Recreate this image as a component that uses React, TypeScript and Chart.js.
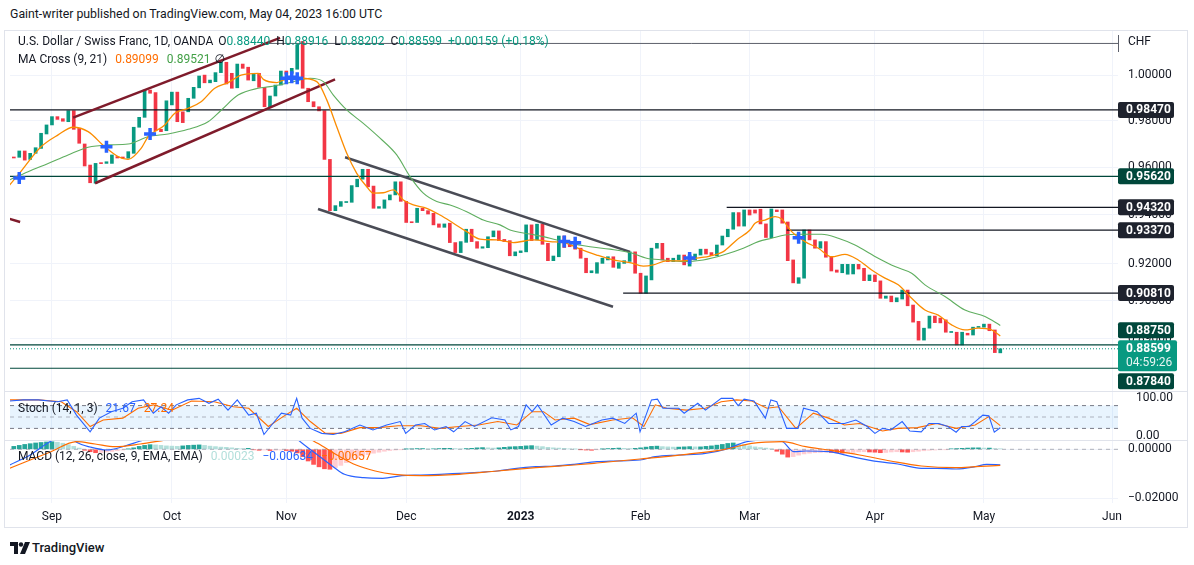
import { useEffect, useRef } from 'react';
import { Chart, registerables } from 'chart.js';

Chart.register(...registerables);

// ---- time axis (candle index 0 = 23 Aug 2022) ----
const X_MIN = -0.7;
const X_MAX = 202.6;
const monthTicks = [7, 29, 50, 72, 93, 115, 135, 158, 178, 201.5];
const monthLabels = ['Sep', 'Oct', 'Nov', 'Dec', '2023', 'Feb', 'Mar', 'Apr', 'May', 'Jun'];

// ---- daily candles, USD/CHF ----
const opens = [
  0.9644, 0.9643, 0.967, 0.9634, 0.966, 0.9681, 0.9743, 0.9782, 0.9818, 0.9809,
  0.9796, 0.9844, 0.9767, 0.97, 0.961, 0.9533, 0.962, 0.9617, 0.9617, 0.9646,
  0.9644, 0.9639, 0.966, 0.9772, 0.9815, 0.9934, 0.9923, 0.9763, 0.9757, 0.9869,
  0.9925, 0.9839, 0.9839, 0.9898, 0.9944, 1.0, 0.9966, 0.9971, 1.0011, 1.0057,
  1.0008, 0.9944, 1.0049, 1.0035, 0.9975, 1.0008, 0.9946, 0.9861, 0.9908, 0.9956,
  1.0018, 1.0008, 1.0026, 1.015, 0.9942, 0.9883, 0.9861, 0.9844, 0.9634, 0.9418,
  0.9436, 0.9452, 0.9453, 0.9518, 0.955, 0.9592, 0.9521, 0.9428, 0.9428, 0.9463,
  0.9484, 0.9539, 0.9457, 0.9371, 0.9369, 0.9428, 0.9418, 0.9407, 0.9363, 0.9349,
  0.9366, 0.9286, 0.9245, 0.9287, 0.9341, 0.929, 0.9263, 0.9265, 0.931, 0.9334,
  0.9299, 0.9294, 0.9232, 0.9245, 0.9248, 0.9359, 0.9297, 0.9362, 0.9283, 0.9212,
  0.9228, 0.9313, 0.9279, 0.929, 0.9263, 0.9222, 0.9163, 0.9161, 0.9201, 0.9215,
  0.9228, 0.9181, 0.9201, 0.9209, 0.9248, 0.9161, 0.908, 0.9134, 0.9263, 0.9283,
  0.9222, 0.9208, 0.9215, 0.9235, 0.919, 0.9215, 0.9235, 0.9259, 0.9245, 0.9232,
  0.9276, 0.931, 0.9341, 0.941, 0.9354, 0.9421, 0.9421, 0.9424, 0.9363, 0.9306,
  0.9421, 0.9421, 0.9371, 0.9215, 0.912, 0.9141, 0.9338, 0.9297, 0.9263, 0.929,
  0.9228, 0.9174, 0.9163, 0.9157, 0.9158, 0.9197, 0.9181, 0.9131, 0.9154, 0.913,
  0.906, 0.9069, 0.9046, 0.9057, 0.9093, 0.9033, 0.8968, 0.8894, 0.8941, 0.8989,
  0.8981, 0.8974, 0.8924, 0.8925, 0.8875, 0.8921, 0.8914, 0.8944, 0.8945, 0.8957,
  0.8934, 0.8844,
];
const closes = [
  0.964, 0.967, 0.9631, 0.966, 0.9684, 0.9746, 0.9782, 0.9818, 0.9806, 0.9798,
  0.9844, 0.9763, 0.9703, 0.9606, 0.9535, 0.9617, 0.9616, 0.9624, 0.9653, 0.964,
  0.964, 0.9667, 0.9772, 0.9815, 0.9934, 0.992, 0.9757, 0.9753, 0.9887, 0.9925,
  0.9796, 0.9792, 0.9898, 0.9946, 0.9996, 0.9966, 0.9978, 1.0011, 1.0057, 0.9961,
  0.9942, 1.0049, 1.003, 0.9978, 1.0008, 0.9946, 0.9861, 0.9908, 0.9956, 1.0018,
  1.0004, 1.003, 1.0134, 0.9942, 0.9883, 0.9861, 0.9843, 0.9634, 0.9418, 0.9439,
  0.9456, 0.9455, 0.9523, 0.955, 0.9592, 0.9518, 0.9428, 0.9435, 0.9463, 0.9484,
  0.9539, 0.9457, 0.9369, 0.9368, 0.9428, 0.9418, 0.9404, 0.9359, 0.9349, 0.9363,
  0.9286, 0.9245, 0.929, 0.9341, 0.929, 0.9263, 0.9269, 0.931, 0.9334, 0.9294,
  0.929, 0.9232, 0.9248, 0.9252, 0.9359, 0.9294, 0.9362, 0.9279, 0.9212, 0.9231,
  0.9313, 0.9266, 0.9269, 0.9259, 0.9222, 0.9163, 0.9171, 0.9204, 0.9222, 0.9228,
  0.9185, 0.9204, 0.9212, 0.9248, 0.9161, 0.908, 0.915, 0.9263, 0.9283, 0.9215,
  0.9208, 0.9222, 0.9235, 0.9195, 0.9235, 0.9239, 0.9259, 0.9239, 0.9232, 0.9276,
  0.9313, 0.9341, 0.941, 0.9354, 0.9421, 0.94, 0.9408, 0.9363, 0.9307, 0.9425,
  0.9414, 0.9366, 0.9212, 0.9122, 0.9143, 0.9338, 0.9297, 0.9263, 0.929, 0.9226,
  0.917, 0.9165, 0.9197, 0.9197, 0.9197, 0.9178, 0.9131, 0.9154, 0.9127, 0.906,
  0.9069, 0.9046, 0.9062, 0.9093, 0.903, 0.8965, 0.8894, 0.8941, 0.8989, 0.8963,
  0.8962, 0.8925, 0.8926, 0.8875, 0.8925, 0.8914, 0.8945, 0.8946, 0.8957, 0.8931,
  0.8845, 0.88599,
];

// ---- MA Cross (9, 21) as [index, price] ----
const maFast = [
  [-1.05, 0.9518], [0.79, 0.9568], [5, 0.9688], [8.13, 0.9739], [10.88, 0.9772], [13.63, 0.9753],
  [16.69, 0.9688], [19.13, 0.9646], [20.97, 0.9634], [23.35, 0.9681], [24.64, 0.9731], [27.7, 0.9782],
  [29.54, 0.9833], [31.98, 0.9854], [34.36, 0.9883], [36.87, 0.9942], [39.31, 0.9967], [41.7, 1.0],
  [44.82, 1.0008], [45.79, 0.9981], [48.25, 0.9967], [49.4, 0.9978], [52.52, 0.9986], [55.59, 0.9971],
  [57.42, 0.9891], [59.25, 0.9774], [61.09, 0.966], [62.92, 0.9575], [64.76, 0.9518], [65.97, 0.9491],
  [67.8, 0.9493], [69.64, 0.9505], [71.47, 0.9463], [73.31, 0.9442], [75.77, 0.9428], [78.2, 0.94],
  [80.65, 0.9366], [83.1, 0.9331], [85.55, 0.93], [88.6, 0.9297], [91.65, 0.9286], [95.32, 0.9297],
  [98.38, 0.929], [101.45, 0.9283], [103.89, 0.9259], [106.95, 0.9235], [110, 0.9215], [113.06, 0.9204],
  [115.5, 0.919], [117.34, 0.9195], [119.8, 0.9211], [122.84, 0.9211], [125.3, 0.9222], [127.74, 0.9231],
  [130.18, 0.9249], [132.64, 0.9297], [135.08, 0.9338], [136, 0.9366], [137.83, 0.9379], [139.67, 0.9393],
  [140.89, 0.9383], [142.73, 0.9331], [145.17, 0.929], [147.61, 0.9263], [150.06, 0.9228], [152.5, 0.9238],
  [154.94, 0.9215], [157.4, 0.9174], [159.84, 0.9141], [162.28, 0.9114], [164.74, 0.906], [167.18, 0.9013],
  [169.62, 0.8993], [172.08, 0.8954], [174.52, 0.8934], [176.96, 0.8941], [179.41, 0.8934], [181, 0.891],
];
const maSlow = [
  [-1.05, 0.9544], [2.62, 0.9582], [6.29, 0.9617], [9.96, 0.9653], [13.63, 0.9686], [17.3, 0.9696],
  [20.97, 0.97], [24.64, 0.9731], [28.31, 0.9743], [31.98, 0.9763], [35.64, 0.9796], [38.09, 0.9847],
  [41.15, 0.9912], [44.82, 0.9942], [47.02, 0.9949], [50.69, 0.9967], [54.36, 0.9986], [56.8, 0.9971],
  [58.63, 0.9912], [61.09, 0.9847], [64.13, 0.9789], [67.2, 0.9725], [70.26, 0.9653], [72.7, 0.9561],
  [75.14, 0.9491], [77.6, 0.9456], [80.04, 0.9442], [83.1, 0.9414], [86.15, 0.9379], [89.2, 0.9359],
  [91.05, 0.9338], [94.72, 0.9321], [98.38, 0.9304], [102.05, 0.9283], [105.73, 0.9269], [109.4, 0.9259],
  [113.06, 0.9245], [116.12, 0.9222], [119.17, 0.9215], [122.84, 0.9208], [126.5, 0.9215], [130.18, 0.9235],
  [133.85, 0.9263], [136.6, 0.929], [139.05, 0.9304], [141.5, 0.9317], [143.94, 0.932], [148.23, 0.932],
  [151.28, 0.9304], [154.34, 0.9276], [158.61, 0.9222], [161.68, 0.9188], [164.74, 0.9161], [167.18, 0.9114],
  [170.85, 0.9067], [174.52, 0.9013], [178.19, 0.8987], [181, 0.8952],
];
const maCrosses = [
  [1, 0.9555], [17, 0.9688], [25, 0.9743], [50, 0.9986], [51, 0.999], [52, 0.9986],
  [101, 0.929], [103, 0.9285], [124, 0.9223], [144, 0.9306],
];

// ---- drawings ----
const darkLevels = [[0.9847, X_MIN], [0.9432, 130.8], [0.9337, 141.8], [0.9081, 111.8]];
const greenLevels = [[0.9562, X_MIN], [0.8875, X_MIN], [0.8784, X_MIN]];
const highLevel = [1.0141, 46];
const lastPrice = 0.88599;
const countdown = '04:59:26';
const risingChannel = [
  [[10.88, 0.9814], [48.85, 1.0166]],
  [[14.91, 0.9533], [58.94, 0.9981]],
  [[-1.05, 0.9386], [1.16, 0.9371]],
];
const fallingChannel = [
  [[60.78, 0.9643], [113.07, 0.9248]],
  [[55.82, 0.9425], [109.94, 0.9026]],
];
const priceTicks = [1.0, 0.98, 0.96, 0.94, 0.92, 0.905, 0.89];

// ---- Stoch (14, 1, 3) ----
const stochK = [
  [-0.75, 92], [1.7, 95], [4.5, 95], [8, 90], [9.8, 95], [11.5, 55], [14, 11], [15.7, 47], [17.9, 64],
  [20, 73], [21.7, 90], [23.8, 95], [25.6, 60], [27, 77], [28.4, 60], [29.8, 82], [31.9, 95], [34, 99],
  [35.8, 86], [37.5, 97], [39.3, 68], [41, 95], [43.1, 55], [44.5, 60], [45.9, 4], [47.3, 29], [49.1, 60],
  [50.8, 55], [51.9, 99], [52.9, 47], [54.4, 20], [56.5, 7], [58.6, 4], [60.7, 11], [63.5, 29], [65.9, 16],
  [68.4, 29], [70.9, 38], [71.9, 7], [73.7, 29], [75.4, 33], [77.2, 16], [79.3, 25], [80.7, 11], [82.8, 38],
  [84.5, 25], [87.7, 48], [90.1, 42], [91.2, 16], [92.6, 25], [94, 82], [95.1, 64], [96.1, 82], [98.6, 29],
  [100.7, 47], [102.8, 38], [104.9, 25], [107.9, 42], [109.9, 47], [112.1, 33], [114.2, 60], [114.9, 11],
  [117, 95], [118.1, 97], [119.1, 73], [122, 73], [123, 60], [125.5, 86], [126.9, 68], [129.8, 99],
  [131.9, 99], [132.9, 80], [134, 97], [135.8, 92], [137.9, 47], [138.9, 95], [140, 90], [141.8, 20],
  [143.9, 20], [144.9, 73], [147.4, 64], [149.5, 33], [152.4, 33], [154.5, 42], [156.6, 25], [158, 7],
  [159.4, 20], [160.9, 16], [163, 38], [164.4, 13], [166.5, 11], [167.9, 33], [169.7, 33], [171.4, 25],
  [172.9, 10], [173.9, 25], [175.3, 25], [176.4, 38], [177.8, 55], [178.9, 53], [179.9, 10], [181, 21.67],
];
const stochD = [
  [-0.75, 95], [4.5, 95], [8.7, 90], [11.5, 64], [14, 25], [16.4, 42], [20, 47], [22.8, 73], [25.6, 82],
  [29, 68], [32.6, 92], [36.8, 90], [40.3, 77], [43.1, 73], [46.7, 25], [49.4, 51], [51.9, 73], [54.4, 38],
  [57.2, 7], [60, 7], [63.5, 22], [67, 22], [70.5, 27], [74.7, 27], [78.2, 20], [81.7, 25], [85.3, 29],
  [88.8, 38], [92.3, 29], [95.1, 64], [97.2, 64], [99.3, 42], [102.8, 47], [105.7, 30], [109.9, 42],
  [113.5, 48], [115.6, 25], [117.7, 82], [119.8, 73], [123.4, 68], [126.9, 73], [129.8, 90], [132.6, 95],
  [135.4, 92], [138.2, 73], [140.3, 77], [143.5, 20], [146.7, 60], [149.5, 47], [152.4, 29], [155.2, 33],
  [159.4, 13], [162.2, 20], [165.8, 22], [169.3, 33], [172.9, 20], [176.4, 29], [178.9, 51], [181, 27.24],
];
const stochBands = [80, 50, 20];
const stochTicks = [100, 0];

// ---- MACD (12, 26, close, 9) ----
const macdLine = [
  [-0.75, -0.00645], [3, -0.00234], [6.6, 0.00312], [8.5, 0.0048], [10.3, 0.005], [11.5, 0.00287],
  [14, 0.00094], [17.1, -0.00029], [20.4, 0.00136], [23.2, 0.00341], [26.8, 0.0055], [34.2, 0.0075],
  [41.5, 0.008], [47, 0.0085], [50.7, 0.007], [52.2, 0.0038], [55.75, -0.00234], [58.6, -0.00715],
  [60.67, -0.01027], [64.2, -0.01166], [67.7, -0.01191], [71.2, -0.01084], [74.7, -0.01055],
  [78.2, -0.01027], [81.7, -0.00986], [85.25, -0.00945], [88.75, -0.00891], [92.26, -0.0078],
  [95.78, -0.00715], [99.3, -0.00686], [102.8, -0.00616], [107, -0.00509], [109.95, -0.0048],
  [114.9, -0.0044], [117.7, -0.00304], [122, -0.00234], [126.9, -0.00164], [131.2, 0.00041],
  [134, 0.00287], [136.8, 0.0038], [138.7, 0.004], [141.1, 0.00312], [143.15, -0.00099], [145.3, -0.0007],
  [149.5, -0.00099], [153.8, -0.00304], [158.7, -0.00509], [162.2, -0.00604], [166.5, -0.0078],
  [169.3, -0.0078], [172.9, -0.00809], [176.4, -0.00715], [178.5, -0.00616], [181, -0.00634],
];
const macdSignal = [
  [-0.75, -0.0078], [3, -0.0044], [6.7, -0.0011], [11.5, 0.00312], [14.9, 0.00218], [18.6, 0.00107],
  [23.2, 0.00218], [27.7, 0.0038], [34.2, 0.006], [41.5, 0.0072], [48.9, 0.0072], [52.5, 0.0062],
  [55.75, 0.00246], [59.3, -0.00234], [62.8, -0.00645], [66.3, -0.00891], [69.8, -0.01027],
  [74.7, -0.01084], [81.7, -0.01027], [88.75, -0.00891], [95.8, -0.00756], [102.8, -0.00645],
  [107, -0.00563], [114.9, -0.00398], [123.4, -0.00205], [130.5, 0], [135.4, 0.00246], [141.1, 0.00312],
  [145.3, 0.00107], [149.5, -0.00029], [155.2, -0.00234], [160.85, -0.0048], [166.5, -0.00686],
  [172.9, -0.00756], [176.4, -0.00715], [181, -0.00657],
];
const macdHist = [
  0.0012, 0.0016, 0.002, 0.0023, 0.0026, 0.0028, 0.003, 0.0031, 0.0029, 0.0025,
  0.0019, 0.0012, 0.0005, -0.0004, -0.001, -0.0014, -0.0013, -0.0011, -0.0009, -0.0006,
  -0.0003, 0.0001, 0.0006, 0.0012, 0.0016, 0.0019, 0.0018, 0.0016, 0.0014, 0.0013,
  0.0012, 0.0014, 0.0016, 0.0017, 0.0018, 0.0016, 0.0013, 0.0011, 0.0009, 0.0008,
  0.0006, 0.0004, 0.0003, 0.0004, -0.0002, -0.0004, -0.0003, -0.0005, -0.0004, -0.0003,
  -0.0005, -0.0008, -0.0015, -0.003, -0.0048, -0.0062, -0.0072, -0.008, -0.0082, -0.0075,
  -0.0066, -0.0055, -0.0045, -0.0036, -0.0028, -0.0022, -0.0016, -0.0012, -0.0008, -0.0005,
  -0.0003, -0.0001, 0.0001, 0.0002, 0.0003, 0.0003, 0.0002, 0.0002, 0.0003, 0.0004,
  0.0004, 0.0003, 0.0002, 0.0003, 0.0004, 0.0006, 0.0007, 0.0006, 0.0005, 0.0006,
  0.0008, 0.001, 0.0011, 0.0012, 0.0014, 0.0015, 0.0013, 0.0011, 0.0008, 0.0006,
  0.0005, 0.0004, 0.0002, 0.0001, -0.0001, -0.0003, -0.0004, -0.0002, 0.0001, 0.0003,
  0.0004, 0.0005, 0.0004, 0.0003, 0.0004, 0.0006, 0.0009, 0.0012, 0.0013, 0.0011,
  0.001, 0.0009, 0.0009, 0.001, 0.0011, 0.001, 0.001, 0.0012, 0.0014, 0.0017,
  0.002, 0.0024, 0.0026, 0.0022, 0.0018, 0.0014, 0.001, 0.0007, 0.0005, 0.0002,
  -0.0008, -0.002, -0.0032, -0.003, -0.0024, -0.0019, -0.0016, -0.0014, -0.0013, -0.0012,
  -0.0013, -0.0014, -0.0016, -0.0015, -0.0013, -0.0011, -0.001, -0.0011, -0.0012, -0.0014,
  -0.0013, -0.0011, -0.001, -0.0011, -0.0012, -0.001, -0.0008, -0.0006, -0.0004, -0.0003,
  -0.0002, -0.0001, 0.0002, 0.0003, 0.0004, 0.0005, 0.0006, 0.0006, 0.0005, 0.0005,
  0.0003, 0.00023,
];
const macdTicks = [0, -0.02];

// ---- look ----
const FONT = "Roboto, 'Noto Sans', 'DejaVu Sans', sans-serif";
const TEXT = '#131722';
const GRID = '#f0f3fa';
const FRAME = '#e0e3eb';
const UP = '#089981';
const DOWN = '#F23645';
const DARK_LINE = '#131722';
const DARK_BADGE = '#1e222d';
const GREEN_LINE = '#00473b';
const MAROON = '#7f1b2b';
const SLATE = '#4a4c56';
const BLUE = '#2962FF';
const ORANGE = '#FF6D00';
const MA_FAST = '#FB8C00';
const MA_SLOW = '#5FAE5F';
const AXIS_W = 76;

Chart.defaults.font.family = FONT;

const pts = (list: number[][]) => list.map(([x, y]) => ({ x, y }));
const ray = (from: number, value: number) => [{ x: from, y: value }, { x: X_MAX, y: value }];

function xAxis(withLabels: boolean): any {
  return {
    type: 'linear',
    min: X_MIN,
    max: X_MAX,
    bounds: 'data',
    offset: false,
    afterBuildTicks: (s: any) => {
      s.ticks = monthTicks.map((value) => ({ value }));
    },
    afterFit: (s: any) => {
      s.height = withLabels ? 26 : 0;
      s.paddingLeft = 0;
      s.paddingRight = 0;
    },
    grid: { color: GRID, drawTicks: false, offset: false },
    border: { display: false },
    ticks: {
      display: withLabels,
      autoSkip: false,
      maxRotation: 0,
      padding: 7,
      color: TEXT,
      font: (c: any) => ({ family: FONT, size: 12, weight: monthLabels[c.index] === '2023' ? 'bold' : 'normal' }),
      callback: (_v: any, i: number) => monthLabels[i],
    },
  };
}

function yAxis(ticks: number[], format: (v: number) => string, extra: any): any {
  return {
    position: 'right',
    bounds: 'data',
    beginAtZero: false,
    afterBuildTicks: (s: any) => {
      s.ticks = ticks.map((value) => ({ value }));
    },
    afterFit: (s: any) => {
      s.width = AXIS_W;
      s.paddingTop = 0;
      s.paddingBottom = 0;
    },
    border: { display: false },
    ticks: { padding: 10, color: TEXT, font: { family: FONT, size: 12 }, callback: (v: any) => format(Number(v)) },
    ...extra,
  };
}

const baseOptions = {
  responsive: false,
  animation: false,
  events: [],
  layout: { autoPadding: false, padding: { left: 10, right: 0, top: 0, bottom: 0 } },
  plugins: { legend: { display: false }, tooltip: { enabled: false } },
};

const line = { type: 'line', pointRadius: 0, fill: false, tension: 0 };

const badgePlugin = {
  id: 'priceBadges',
  afterDraw(chart: any) {
    const { ctx, chartArea } = chart;
    const y = chart.scales.y;
    const left = chartArea.right;
    const h = 16;
    const curY = y.getPixelForValue(lastPrice);
    const curTop = curY - 8.5;
    const curBottom = curTop + 31;
    const items = [
      ...darkLevels.map(([v]) => ({ v, bg: DARK_BADGE })),
      ...greenLevels.map(([v]) => ({ v, bg: GREEN_LINE })),
    ];
    ctx.save();
    ctx.textBaseline = 'middle';
    ctx.textAlign = 'left';
    ctx.font = `bold 12px ${FONT}`;
    items.forEach(({ v, bg }) => {
      let cy = y.getPixelForValue(v);
      if (cy + h / 2 > curTop - 2 && cy - h / 2 < curBottom + 2) {
        cy = cy < curY ? curTop - 2 - h / 2 : curBottom + 2 + h / 2;
      }
      ctx.fillStyle = bg;
      ctx.beginPath();
      ctx.roundRect(left, cy - h / 2, 56, h, 2);
      ctx.fill();
      ctx.fillStyle = '#ffffff';
      ctx.fillText(v.toFixed(5), left + 8, cy + 0.5);
    });
    ctx.fillStyle = UP;
    ctx.beginPath();
    ctx.roundRect(left, curTop, 59, 31, 2);
    ctx.fill();
    ctx.fillStyle = '#ffffff';
    ctx.fillText(lastPrice.toFixed(5), left + 8, curY + 0.5);
    ctx.font = `12px ${FONT}`;
    ctx.fillStyle = '#e6f4f1';
    ctx.fillText(countdown, left + 8, curY + 14);
    ctx.restore();
  },
};

function mainConfig(): any {
  const candleColors = opens.map((o, i) => (closes[i] >= o ? UP : DOWN));
  return {
    type: 'bar',
    data: {
      datasets: [
        {
          ...line,
          data: pts(maCrosses),
          showLine: false,
          pointStyle: 'cross',
          pointRadius: 6,
          pointBorderWidth: 3.5,
          pointBorderColor: BLUE,
          borderColor: BLUE,
        },
        { ...line, data: pts(maFast), borderColor: MA_FAST, borderWidth: 1.3, cubicInterpolationMode: 'monotone' },
        { ...line, data: pts(maSlow), borderColor: MA_SLOW, borderWidth: 1.1, cubicInterpolationMode: 'monotone' },
        ...risingChannel.map((seg) => ({ ...line, data: pts(seg), borderColor: MAROON, borderWidth: 2.5 })),
        ...fallingChannel.map((seg) => ({ ...line, data: pts(seg), borderColor: SLATE, borderWidth: 2.5 })),
        ...darkLevels.map(([v, from]) => ({ ...line, data: ray(from, v), borderColor: DARK_LINE, borderWidth: 1.2 })),
        ...greenLevels.map(([v, from]) => ({ ...line, data: ray(from, v), borderColor: GREEN_LINE, borderWidth: 1.2 })),
        { ...line, data: ray(highLevel[1], highLevel[0]), borderColor: '#5d606b', borderWidth: 1 },
        { ...line, data: ray(X_MIN, lastPrice), borderColor: UP, borderWidth: 1, borderDash: [1, 2] },
        {
          type: 'bar',
          data: opens.map((o, i) => ({ x: i, y: [o, closes[i]] })),
          backgroundColor: candleColors,
          barThickness: 3,
          minBarLength: 1,
          grouped: false,
        },
      ],
    },
    options: {
      ...baseOptions,
      scales: {
        x: xAxis(false),
        y: yAxis(priceTicks, (v) => v.toFixed(5), {
          type: 'logarithmic',
          min: 0.8696,
          max: 1.0197,
          grid: { color: GRID, drawTicks: false },
        }),
      },
    },
    plugins: [badgePlugin],
  };
}

function stochConfig(): any {
  const bandDash = [4, 4];
  return {
    type: 'line',
    data: {
      datasets: [
        { ...line, data: pts(stochK), borderColor: BLUE, borderWidth: 1.1 },
        { ...line, data: pts(stochD), borderColor: ORANGE, borderWidth: 1.1 },
        { ...line, data: ray(X_MIN, stochBands[0]), borderColor: '#787B86', borderWidth: 1, borderDash: bandDash },
        { ...line, data: ray(X_MIN, stochBands[1]), borderColor: 'rgba(120,123,134,0.55)', borderWidth: 1, borderDash: bandDash },
        {
          ...line,
          data: ray(X_MIN, stochBands[2]),
          borderColor: '#787B86',
          borderWidth: 1,
          borderDash: bandDash,
          fill: 2,
          backgroundColor: 'rgba(33,150,243,0.1)',
        },
      ],
    },
    options: {
      ...baseOptions,
      scales: {
        x: xAxis(false),
        y: yAxis(stochTicks, (v) => v.toFixed(2), {
          type: 'linear',
          min: -10.53,
          max: 118.42,
          grid: { display: false },
        }),
      },
    },
  };
}

function macdConfig(): any {
  const histColors = macdHist.map((v, i) => {
    const prev = i > 0 ? macdHist[i - 1] : v;
    if (v >= 0) return v >= prev ? '#26A69A' : '#B2DFDB';
    return v >= prev ? '#FFCDD2' : '#FF5252';
  });
  return {
    type: 'bar',
    data: {
      datasets: [
        { ...line, data: pts(macdSignal), borderColor: ORANGE, borderWidth: 1.2, cubicInterpolationMode: 'monotone' },
        { ...line, data: pts(macdLine), borderColor: BLUE, borderWidth: 1.2, cubicInterpolationMode: 'monotone' },
        { ...line, data: ray(X_MIN, 0), borderColor: 'rgba(120,123,134,0.55)', borderWidth: 1, borderDash: [4, 4] },
        {
          type: 'bar',
          data: macdHist.map((v, i) => ({ x: i, y: v })),
          backgroundColor: histColors,
          barThickness: 4,
          grouped: false,
        },
      ],
    },
    options: {
      ...baseOptions,
      scales: {
        x: xAxis(true),
        y: yAxis(macdTicks, (v) => (v === 0 ? '0.00000' : '\u2212' + Math.abs(v).toFixed(5)), {
          type: 'linear',
          min: -0.02205,
          max: 0.00382,
          grid: { color: GRID, drawTicks: false },
        }),
      },
    },
  };
}

const abs = (left: number, top: number, extra: any = {}): any => ({ position: 'absolute', left, top, ...extra });
const legendRow = { fontSize: 12, lineHeight: '16px', whiteSpace: 'nowrap', color: TEXT };

export default function App(): JSX.Element {
  const mainRef = useRef<HTMLCanvasElement | null>(null);
  const stochRef = useRef<HTMLCanvasElement | null>(null);
  const macdRef = useRef<HTMLCanvasElement | null>(null);

  useEffect(() => {
    const charts: Chart[] = [];
    if (mainRef.current) charts.push(new Chart(mainRef.current, mainConfig()));
    if (stochRef.current) charts.push(new Chart(stochRef.current, stochConfig()));
    if (macdRef.current) charts.push(new Chart(macdRef.current, macdConfig()));
    return () => {
      charts.forEach((c) => c.destroy());
    };
  }, []);

  return (
    <div style={{ position: 'fixed', left: 0, top: 0, width: 1194, height: 565, background: '#fff', fontFamily: FONT, overflow: 'hidden' }}>
      <div style={abs(10, 6, { fontSize: 12.3, lineHeight: '16px', color: TEXT, whiteSpace: 'nowrap' })}>
        Gaint-writer published on TradingView.com, May 04, 2023 16:00 UTC
      </div>

      <canvas ref={mainRef} width={1194} height={360} style={abs(0, 31)} />
      <canvas ref={stochRef} width={1194} height={49} style={abs(0, 391)} />
      <canvas ref={macdRef} width={1194} height={89} style={abs(0, 440)} />

      <div style={abs(4, 30, { width: 1184, height: 498, border: `1px solid ${FRAME}`, boxSizing: 'border-box' })} />
      <div style={abs(4, 391, { width: 1184, height: 1, background: FRAME })} />
      <div style={abs(4, 440, { width: 1184, height: 1, background: FRAME })} />
      <div style={abs(1118, 35, { width: 1, height: 17, background: '#5d606b' })} />
      <div style={abs(1128, 33, legendRow)}>CHF</div>

      <div style={abs(18, 33, legendRow)}>
        U.S. Dollar / Swiss Franc, 1D, OANDA
        <span style={{ marginLeft: 5 }}>O</span>
        <span style={{ color: UP }}>0.88440</span>
        <span style={{ marginLeft: 6 }}>H</span>
        <span style={{ color: UP }}>0.88916</span>
        <span style={{ marginLeft: 6 }}>L</span>
        <span style={{ color: UP }}>0.88202</span>
        <span style={{ marginLeft: 6 }}>C</span>
        <span style={{ color: UP }}>0.88599</span>
        <span style={{ color: UP, marginLeft: 6 }}>+0.00159 (+0.18%)</span>
      </div>
      <div style={abs(18, 51, legendRow)}>
        MA Cross (9, 21)
        <span style={{ color: ORANGE, marginLeft: 8 }}>0.89099</span>
        <span style={{ color: '#43A047', marginLeft: 8 }}>0.89521</span>
        <span style={{ marginLeft: 4 }}>{'\u2205'}</span>
      </div>
      <div style={abs(18, 400, legendRow)}>
        Stoch (14, 1, 3)
        <span style={{ color: BLUE, marginLeft: 8 }}>21.67</span>
        <span style={{ color: ORANGE, marginLeft: 8 }}>27.24</span>
      </div>
      <div style={abs(18, 448, legendRow)}>
        MACD (12, 26, close, 9, EMA, EMA)
        <span style={{ color: '#B2DFDB', marginLeft: 8 }}>0.00023</span>
        <span style={{ color: BLUE, marginLeft: 8 }}>{'\u22120.00634'}</span>
        <span style={{ color: ORANGE, marginLeft: 8 }}>{'\u22120.00657'}</span>
      </div>

      <svg style={abs(10, 542)} width={20} height={12} viewBox="0 0 20 12">
        <path d="M0 0h8v12H4V4H0z" fill={TEXT} />
        <circle cx={11} cy={2.5} r={2.2} fill={TEXT} />
        <path d="M15 0h5l-5 12h-5z" fill={TEXT} />
      </svg>
      <div style={abs(32, 540, { fontSize: 13, lineHeight: '16px', fontWeight: 500, color: TEXT })}>TradingView</div>
    </div>
  );
}
